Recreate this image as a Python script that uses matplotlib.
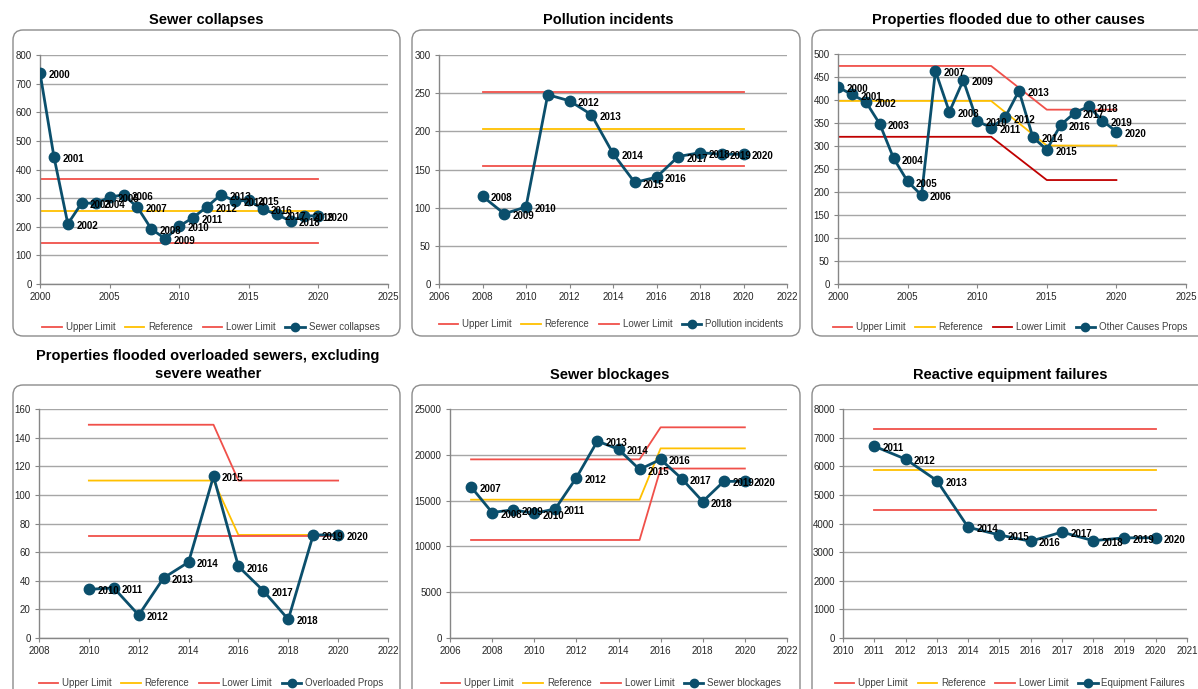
import matplotlib
matplotlib.use('Agg')
import matplotlib.pyplot as plt
from matplotlib.patches import FancyBboxPatch

W, H = 1198, 689
plt.rcParams['font.family'] = ['Liberation Sans', 'DejaVu Sans']

# --- data ---
collapse_years = list(range(2000, 2021))
collapse_vals = [738, 445, 210, 283, 282, 303, 312, 268, 192, 158, 202,
                 232, 270, 312, 290, 292, 262, 243, 220, 238, 238]
collapse_lim_x = [2000, 2020]
collapse_upper = [368, 368]
collapse_ref = [255, 255]
collapse_lower = [143, 143]

pollution_years = list(range(2008, 2021))
pollution_vals = [115, 92, 101, 248, 240, 222, 171, 133, 140, 167, 172, 170, 170]
pollution_lim_x = [2008, 2020]
pollution_upper = [251, 251]
pollution_ref = [203, 203]
pollution_lower = [155, 155]

other_years = list(range(2000, 2021))
other_vals = [428, 412, 396, 348, 273, 223, 193, 463, 374, 443, 354,
              340, 362, 420, 319, 292, 346, 372, 386, 355, 331]
other_lim_x = [2000, 2011, 2015, 2020]
other_upper = [474, 474, 379, 379]
other_ref = [398, 398, 301, 301]
other_lower = [320, 320, 226, 226]

overload_years = list(range(2010, 2021))
overload_vals = [34, 35, 16, 42, 53, 113, 50, 33, 13, 72, 72]
overload_lim_x = [2010, 2015, 2016, 2020]
overload_upper = [149, 149, 110, 110]
overload_ref = [110, 110, 72, 72]
overload_lower = [71, 71, 71, 71]

block_years = list(range(2007, 2021))
block_vals = [16500, 13700, 14000, 13600, 14100, 17500, 21500, 20600,
              18400, 19500, 17400, 14900, 17100, 17100]
block_lim_x = [2007, 2015, 2016, 2020]
block_upper = [19500, 19500, 23000, 23000]
block_ref = [15100, 15100, 20700, 20700]
block_lower = [10700, 10700, 18500, 18500]

equip_years = list(range(2011, 2021))
equip_vals = [6700, 6250, 5500, 3870, 3600, 3380, 3700, 3400, 3500, 3500]
equip_lim_x = [2011, 2020]
equip_upper = [7300, 7300]
equip_ref = [5870, 5870]
equip_lower = [4470, 4470]

BLUE = '#0B4F6C'
RED = '#F0504A'
GOLD = '#FFC000'
DARKRED = '#C00000'
GRID = '#A6A6A6'
AXC = '#868686'

panels = [
    dict(title='Sewer collapses', name='Sewer collapses',
         x=collapse_years, y=collapse_vals, lx=collapse_lim_x,
         up=collapse_upper, ref=collapse_ref, lo=collapse_lower, lo_c=RED,
         xlim=(2000, 2025), xt=range(2000, 2026, 5), ylim=(0, 800), yt=range(0, 801, 100),
         ax_px=(40, 55, 388, 284), box=(13, 30, 400, 336), tpos=(206, 20), leg=(211, 327), skip=[]),
    dict(title='Pollution incidents', name='Pollution incidents',
         x=pollution_years, y=pollution_vals, lx=pollution_lim_x,
         up=pollution_upper, ref=pollution_ref, lo=pollution_lower, lo_c=RED,
         xlim=(2006, 2022), xt=range(2006, 2023, 2), ylim=(0, 300), yt=range(0, 301, 50),
         ax_px=(439, 55, 787, 284), box=(412, 30, 800, 336), tpos=(608, 20), leg=(611, 324), skip=[2011]),
    dict(title='Properties flooded due to other causes', name='Other Causes Props',
         x=other_years, y=other_vals, lx=other_lim_x,
         up=other_upper, ref=other_ref, lo=other_lower, lo_c=DARKRED,
         xlim=(2000, 2025), xt=range(2000, 2026, 5), ylim=(0, 500), yt=range(0, 501, 50),
         ax_px=(838, 54, 1186, 284), box=(812, 30, 1210, 336), tpos=(1008, 20), leg=(1010, 327), skip=[]),
    dict(title='Properties flooded overloaded sewers, excluding\nsevere weather', name='Overloaded Props',
         x=overload_years, y=overload_vals, lx=overload_lim_x,
         up=overload_upper, ref=overload_ref, lo=overload_lower, lo_c=RED,
         xlim=(2008, 2022), xt=range(2008, 2023, 2), ylim=(0, 160), yt=range(0, 161, 20),
         ax_px=(39, 409, 388, 638), box=(13, 385, 400, 700), tpos=(208, 365), leg=(211, 683), skip=[]),
    dict(title='Sewer blockages', name='Sewer blockages',
         x=block_years, y=block_vals, lx=block_lim_x,
         up=block_upper, ref=block_ref, lo=block_lower, lo_c=RED,
         xlim=(2006, 2022), xt=range(2006, 2023, 2), ylim=(0, 25000), yt=range(0, 25001, 5000),
         ax_px=(450, 409, 787, 638), box=(412, 385, 800, 700), tpos=(610, 375), leg=(611, 683), skip=[]),
    dict(title='Reactive equipment failures', name='Equipment Failures',
         x=equip_years, y=equip_vals, lx=equip_lim_x,
         up=equip_upper, ref=equip_ref, lo=equip_lower, lo_c=RED,
         xlim=(2010, 2021), xt=range(2010, 2022, 1), ylim=(0, 8000), yt=range(0, 8001, 1000),
         ax_px=(843, 409, 1187, 638), box=(812, 385, 1210, 700), tpos=(1010, 375), leg=(1010, 683), skip=[]),
]


def rect(x0, y0, x1, y1):
    return [x0 / W, 1 - y1 / H, (x1 - x0) / W, (y1 - y0) / H]


fig = plt.figure(figsize=(W / 100, H / 100), dpi=100)
bg = fig.add_axes([0, 0, 1, 1], zorder=-1)
bg.set_xlim(0, W)
bg.set_ylim(H, 0)
bg.axis('off')

for p in panels:
    bx0, by0, bx1, by1 = p['box']
    bg.add_patch(FancyBboxPatch((bx0, by0), bx1 - bx0, by1 - by0,
                                boxstyle='round,pad=0,rounding_size=10',
                                fc='white', ec='#8C8C8C', lw=1.0))
    bg.text(p['tpos'][0], p['tpos'][1], p['title'], ha='center', va='center',
            fontsize=10.5, fontweight='bold', linespacing=1.3)

    ax = fig.add_axes(rect(*p['ax_px']))
    ax.set_xlim(*p['xlim'])
    ax.set_ylim(*p['ylim'])
    ax.set_xticks(list(p['xt']))
    ax.set_yticks(list(p['yt']))
    ax.grid(axis='y', color=GRID, lw=1.0)
    ax.set_axisbelow(True)
    for s in ['top', 'right']:
        ax.spines[s].set_visible(False)
    for s in ['left', 'bottom']:
        ax.spines[s].set_color(AXC)
        ax.spines[s].set_linewidth(1.0)
    ax.tick_params(length=3, color=AXC, labelsize=7, labelcolor='#262626', pad=3)
    ax.patch.set_alpha(0)

    h1, = ax.plot(p['lx'], p['up'], color=RED, lw=1.3, label='Upper Limit')
    h2, = ax.plot(p['lx'], p['ref'], color=GOLD, lw=1.3, label='Reference')
    h3, = ax.plot(p['lx'], p['lo'], color=p['lo_c'], lw=1.3, label='Lower Limit')
    h4, = ax.plot(p['x'], p['y'], color=BLUE, lw=2.0, marker='o', ms=7.5,
                  label=p['name'], zorder=5)
    for xv, yv in zip(p['x'], p['y']):
        if xv in p['skip']:
            continue
        ax.annotate(str(xv), (xv, yv), xytext=(6, -1.5), textcoords='offset points',
                    fontsize=7, fontweight='bold', va='center', ha='left', zorder=6)

    leg = ax.legend(handles=[h1, h2, h3, h4], loc='center',
                    bbox_to_anchor=(p['leg'][0] / W, 1 - p['leg'][1] / H),
                    bbox_transform=fig.transFigure, ncol=4, frameon=False,
                    fontsize=7, handlelength=2.0, handletextpad=0.4,
                    columnspacing=1.0, markerscale=0.8)
    for t in leg.get_texts():
        t.set_color('#404040')

fig.savefig('out.png', dpi=100)
